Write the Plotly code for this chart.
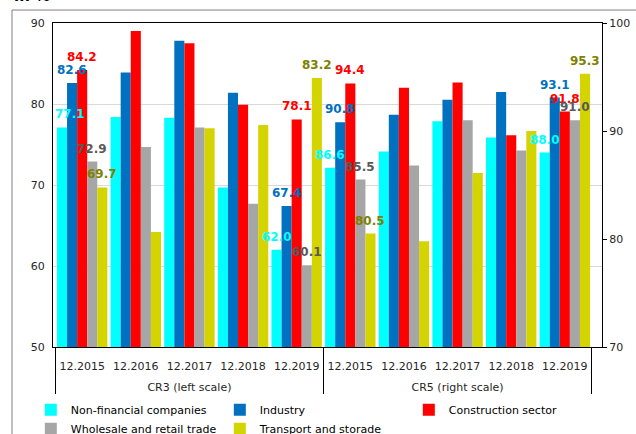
import plotly.graph_objects as go

dates = ["12.2015", "12.2016", "12.2017", "12.2018", "12.2019"]
groups = ["CR3 (left scale)", "CR5 (right scale)"]
series_names = ["Non-financial companies", "Industry", "Construction sector",
                "Wholesale and retail trade", "Transport and storade"]

cr3_nfc = [77.1, 78.4, 78.3, 69.7, 62.0]
cr3_ind = [82.6, 83.9, 87.8, 81.4, 67.4]
cr3_con = [84.2, 89.0, 87.5, 79.9, 78.1]
cr3_whl = [72.9, 74.7, 77.1, 67.7, 60.1]
cr3_trn = [69.7, 64.2, 77.0, 77.4, 83.2]

cr5_nfc = [86.6, 88.1, 90.9, 89.4, 88.0]
cr5_ind = [90.8, 91.5, 92.9, 93.6, 93.1]
cr5_con = [94.4, 94.0, 94.5, 89.6, 91.8]
cr5_whl = [85.5, 86.8, 91.0, 88.2, 91.0]
cr5_trn = [80.5, 79.8, 86.1, 90.0, 95.3]

labelled_dates = ["12.2015", "12.2019"]

bar_colors = ["#00FFFF", "#0070C0", "#FF0000", "#A6A6A6", "#D4D400"]
text_colors = ["#00FFFF", "#0070C0", "#FF0000", "#595959", "#808000"]

cr3 = [cr3_nfc, cr3_ind, cr3_con, cr3_whl, cr3_trn]
cr5 = [cr5_nfc, cr5_ind, cr5_con, cr5_whl, cr5_trn]

FONT = "DejaVu Sans, Verdana, sans-serif"
BARGAP = 0.06
NSER = len(series_names)
bar_w = (1 - BARGAP) / NSER

fig = go.Figure()
annotations = []
for gi, (grp, data, yax) in enumerate([(groups[0], cr3, "y"), (groups[1], cr5, "y2")]):
    for si, name in enumerate(series_names):
        vals = data[si]
        fig.add_trace(go.Bar(
            x=[["<br>" + grp] * len(dates), dates],
            y=vals,
            name=name,
            yaxis=yax,
            legendgroup=name,
            showlegend=(gi == 0),
            marker=dict(color=bar_colors[si], line=dict(width=0)),
            hoverinfo="skip",
        ))
        for di, (d, v) in enumerate(zip(dates, vals)):
            if d not in labelled_dates:
                continue
            ci = gi * len(dates) + di
            annotations.append(dict(
                text=f"{v:.1f}", x=ci + (si - (NSER - 1) / 2) * bar_w, y=v,
                xref="x", yref=yax, showarrow=False,
                xanchor="center", yanchor="middle", yshift=13,
                xshift=8 if (ci == 0 and si == 0) else 0,
                font=dict(family=FONT, size=12, color=text_colors[si], weight="bold"),
            ))

annotations.append(dict(text="<b>in %</b>", xref="paper", yref="paper", x=-0.0747, y=1.05,
                        xanchor="left", yanchor="bottom", showarrow=False,
                        font=dict(family=FONT, size=15, color="black")))

fig.update_layout(
    width=636, height=434,
    margin=dict(l=53, r=34, t=23, b=87, autoexpand=False),
    paper_bgcolor="white", plot_bgcolor="white",
    barmode="group", bargap=BARGAP, bargroupgap=0,
    font=dict(family=FONT, size=11, color="#262626"),
    showlegend=True,
    legend=dict(orientation="h", x=-0.0404, xanchor="left", y=-0.149, yanchor="top",
                entrywidth=144, entrywidthmode="pixels",
                font=dict(family=FONT, size=11, color="#000000"),
                traceorder="normal", itemwidth=30,
                tracegroupgap=0, bgcolor="rgba(0,0,0,0)"),
    xaxis=dict(type="multicategory", showline=True, linecolor="black", linewidth=1,
               mirror=True, ticks="", ticklabelstandoff=9,
               tickangle=0,
               showgrid=False, automargin=False,
               showdividers=True, dividercolor="black", dividerwidth=1,
               tickfont=dict(family=FONT, size=11, color="#262626")),
    yaxis=dict(range=[50, 90], dtick=10, showline=True, linecolor="black", linewidth=1,
               showgrid=True, gridcolor="#D9D9D9", gridwidth=1, ticks="",
               ticklabelstandoff=5, automargin=False,
               zeroline=False, tickfont=dict(family=FONT, size=11, color="#262626")),
    yaxis2=dict(range=[70, 100], dtick=10, overlaying="y", side="right",
                showline=True, linecolor="black", linewidth=1, showgrid=False,
                ticks="outside", ticklen=4, tickcolor="black", zeroline=False,
                automargin=False,
                tickfont=dict(family=FONT, size=11, color="#262626")),
    shapes=[dict(type="rect", xref="paper", yref="paper",
                 x0=-0.0747, x1=1.08, y0=-0.3, y1=1.040,
                 line=dict(color="#808080", width=1), fillcolor="rgba(0,0,0,0)", layer="below")],
    annotations=annotations,
)

fig.write_html("out.html", config={"displayModeBar": False},
               post_script="document.body.style.margin='0px';document.body.style.overflow='hidden';")
